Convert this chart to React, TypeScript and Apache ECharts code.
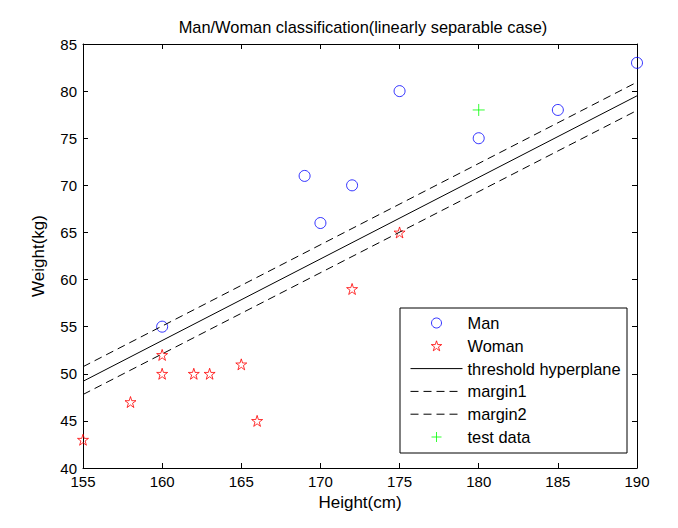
import React, { useEffect, useRef } from "react";
import * as echarts from "echarts";

const titleText = "Man/Woman classification(linearly separable case)";
const xName = "Height(cm)";
const yName = "Weight(kg)";
const seriesNames = ["Man", "Woman", "threshold hyperplane", "margin1", "margin2", "test data"];

const manPoints: number[][] = [
  [160, 55], [169, 71], [170, 66], [172, 70], [175, 80], [180, 75], [185, 78], [190, 83],
];
const womanPoints: number[][] = [
  [155, 43], [158, 47], [160, 52], [160, 50], [162, 50], [163, 50], [165, 51], [166, 45], [172, 59], [175, 65],
];
const thresholdLine: number[][] = [[155, 49.2], [190, 79.5]];
const margin1Line: number[][] = [[155, 50.75], [190, 80.95]];
const margin2Line: number[][] = [[155, 47.8], [190, 77.95]];
const testPoints: number[][] = [[180, 78]];

const xMin = 155, xMax = 190, xStep = 5;
const yMin = 40, yMax = 85, yStep = 5;

const STAR = "path://M50,2 L61,36 L97,36 L68,57 L79,92 L50,71 L21,92 L32,57 L3,36 L39,36 Z";
const PLUS = "path://M0,50 L100,50 M50,0 L50,100";
const FONT = "Arial, 'Liberation Sans', sans-serif";

export default function App() {
  const ref = useRef<HTMLDivElement>(null);
  useEffect(() => {
    if (!ref.current) return;
    const chart = echarts.init(ref.current, null, { renderer: "svg" });
    const axisLine = { show: true, lineStyle: { color: "#000", width: 1 } };
    const tick = { show: true, inside: true, length: 5, lineStyle: { color: "#000" } };
    const label = { color: "#000", fontSize: 15, fontFamily: FONT };
    const lineNames = new Set([seriesNames[2], seriesNames[3], seriesNames[4]]);
    chart.setOption({
      animation: false,
      backgroundColor: "#fff",
      title: {
        text: titleText,
        left: 358,
        top: 14,
        textAlign: "center",
        textStyle: { fontSize: 16.4, fontWeight: "normal", color: "#000", fontFamily: FONT },
      },
      grid: { left: 83, right: 41, top: 44, bottom: 60, containLabel: false },
      xAxis: [
        {
          type: "value", min: xMin, max: xMax, interval: xStep, position: "bottom",
          name: xName, nameLocation: "middle", nameGap: 24,
          nameTextStyle: { color: "#000", fontSize: 17, fontFamily: FONT },
          axisLine, axisTick: tick, axisLabel: { ...label, margin: 6 }, splitLine: { show: false },
        },
        {
          type: "value", min: xMin, max: xMax, interval: xStep, position: "top",
          axisLine, axisTick: tick, axisLabel: { show: false }, splitLine: { show: false },
        },
      ],
      yAxis: [
        {
          type: "value", min: yMin, max: yMax, interval: yStep, position: "left",
          name: yName, nameLocation: "middle", nameGap: 36,
          nameTextStyle: { color: "#000", fontSize: 17, fontFamily: FONT },
          axisLine, axisTick: tick, axisLabel: { ...label, margin: 6 }, splitLine: { show: false },
        },
        {
          type: "value", min: yMin, max: yMax, interval: yStep, position: "right",
          axisLine, axisTick: tick, axisLabel: { show: false }, splitLine: { show: false },
        },
      ],
      legend: {
        orient: "vertical",
        left: 405,
        top: 310,
        itemWidth: 52,
        itemHeight: 10,
        itemGap: 6.8,
        selectedMode: false,
        z: 100,
        itemStyle: { borderWidth: 1 },
        lineStyle: { width: 1 },
        textStyle: { color: "#000", fontSize: 16.4, fontFamily: FONT },
        data: seriesNames.map((n) =>
          lineNames.has(n)
            ? { name: n, itemStyle: { opacity: 0 }, lineStyle: { width: 1 } }
            : { name: n, itemStyle: { borderWidth: 1 } }
        ),
      },
      graphic: [
        {
          type: "rect",
          shape: { x: 400, y: 308, width: 227, height: 145 },
          style: { fill: "#fff", stroke: "#000", lineWidth: 1 },
          z: 90,
        },
      ],
      series: [
        {
          name: seriesNames[2], type: "line", data: thresholdLine, symbol: "none",
          lineStyle: { color: "#000", width: 1, type: "solid" }, itemStyle: { color: "#000" },
        },
        {
          name: seriesNames[3], type: "line", data: margin1Line, symbol: "none",
          lineStyle: { color: "#000", width: 1, type: [8, 5] }, itemStyle: { color: "#000" },
        },
        {
          name: seriesNames[4], type: "line", data: margin2Line, symbol: "none",
          lineStyle: { color: "#000", width: 1, type: [8, 5] }, itemStyle: { color: "#000" },
        },
        {
          name: seriesNames[0], type: "scatter", data: manPoints, symbol: "circle", symbolSize: 11,
          itemStyle: { color: "rgba(0,0,0,0)", borderColor: "#0000ff", borderWidth: 1 },
        },
        {
          name: seriesNames[1], type: "scatter", data: womanPoints, symbol: STAR, symbolSize: 11,
          itemStyle: { color: "rgba(0,0,0,0)", borderColor: "#ff0000", borderWidth: 1 },
        },
        {
          name: seriesNames[5], type: "scatter", data: testPoints, symbol: PLUS, symbolSize: 12,
          itemStyle: { color: "rgba(0,0,0,0)", borderColor: "#00ff00", borderWidth: 1 },
        },
      ],
    });
    return () => chart.dispose();
  }, []);
  return <div ref={ref} style={{ width: 678, height: 528, position: "absolute", left: 0, top: 0 }} />;
}
